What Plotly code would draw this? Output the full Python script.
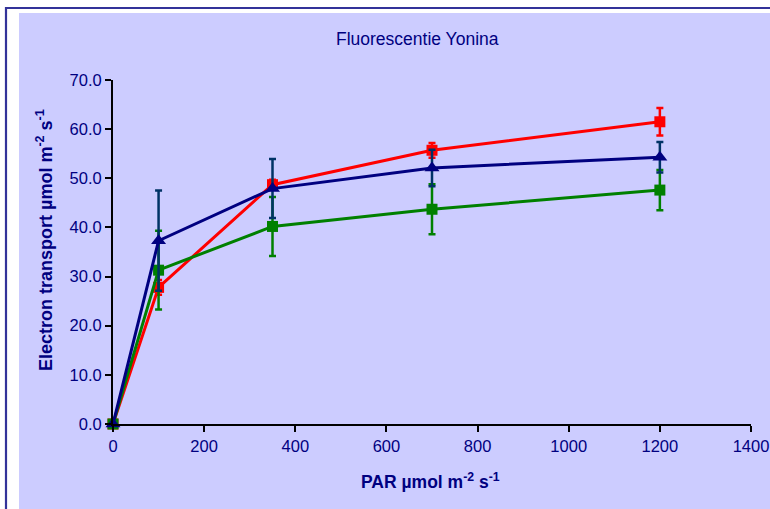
import plotly.graph_objects as go

par = [0, 100, 350, 700, 1200]

red_y = [0.0, 27.8, 48.7, 55.7, 61.5]
red_err = [0.0, 1.5, 1.0, 1.5, 2.8]

green_y = [0.0, 31.3, 40.2, 43.7, 47.6]
green_err = [0.0, 8.0, 6.0, 5.1, 4.1]

blue_y = [0.0, 37.3, 47.9, 52.1, 54.3]
blue_err = [0.0, 10.2, 6.0, 3.7, 3.1]

x_ticks = [0, 200, 400, 600, 800, 1000, 1200, 1400]
y_ticks = [0, 10, 20, 30, 40, 50, 60, 70]

W, H = 770, 509
L, R, T, B = 113, 19, 80, 85
PW, PH = W - L - R, H - T - B


def px(xp):
    return (xp - L) / PW


def py(yp):
    return (H - B - yp) / PH


NAVY = "#000080"
FONT = "Liberation Sans, Arial, sans-serif"

fig = go.Figure()

series = [
    ("red", red_y, red_err, "#FF0000", "#FF0000", "square", 11),
    ("green", green_y, green_err, "#008000", "#008000", "square", 11),
    ("blue", blue_y, blue_err, "#000080", "#003366", "triangle-up", 13),
]
for name, ys, errs, col, ecol, sym, ms in series:
    fig.add_trace(go.Scatter(
        x=par, y=ys, name=name, mode="lines+markers",
        line=dict(color=col, width=3),
        marker=dict(symbol=sym, size=ms, color=col, line=dict(width=0)),
        error_y=dict(type="data", array=errs, visible=True, color=ecol,
                     thickness=2.5, width=3.5),
        cliponaxis=False,
        showlegend=False,
    ))

fig.update_layout(
    width=W, height=H,
    margin=dict(l=L, r=R, t=T, b=B, autoexpand=False),
    paper_bgcolor="white",
    plot_bgcolor="#FFFFCC",
    font=dict(family=FONT, color=NAVY, size=16),
    xaxis=dict(range=[0, 1400], tickvals=x_ticks, ticks="outside", ticklen=6,
               tickwidth=2, tickcolor="black", showline=True, linecolor="black",
               linewidth=2, showgrid=False, zeroline=False, automargin=False,
               tickfont=dict(size=16.5, color=NAVY, family=FONT)),
    yaxis=dict(range=[0, 70], tickvals=y_ticks, tickformat=".1f", ticks="outside",
               ticklen=6, tickwidth=2, tickcolor="black", showline=True,
               linecolor="black", linewidth=2, showgrid=False, zeroline=False,
               automargin=False,
               tickfont=dict(size=16.5, color=NAVY, family=FONT)),
    shapes=[
        dict(type="rect", xref="paper", yref="paper", layer="below",
             x0=px(19), x1=px(790), y0=py(530), y1=py(13),
             fillcolor="#CCCCFF", line=dict(width=0)),
        dict(type="rect", xref="paper", yref="paper", layer="below",
             x0=px(6), x1=px(800), y0=py(540), y1=py(8),
             fillcolor="rgba(0,0,0,0)", line=dict(color="#333399", width=2.2)),
    ],
    annotations=[
        dict(text="Fluorescentie Yonina", xref="paper", yref="paper",
             x=px(417), y=py(39), xanchor="center", yanchor="middle",
             showarrow=False, font=dict(size=17.5, color=NAVY, family=FONT)),
        dict(text="<b>PAR µmol m<sup>-2</sup> s<sup>-1</sup></b>", xref="paper",
             yref="paper", x=px(430), y=py(481), xanchor="center",
             yanchor="middle", showarrow=False,
             font=dict(size=17.5, color=NAVY, family=FONT)),
        dict(text="<b>Electron transport µmol m<sup>-2</sup> s<sup>-1</sup></b>",
             xref="paper", yref="paper", x=px(44), y=py(240),
             xanchor="center", yanchor="middle", textangle=-90,
             showarrow=False, font=dict(size=18, color=NAVY, family=FONT)),
    ],
)

fig.write_html("out.html")
